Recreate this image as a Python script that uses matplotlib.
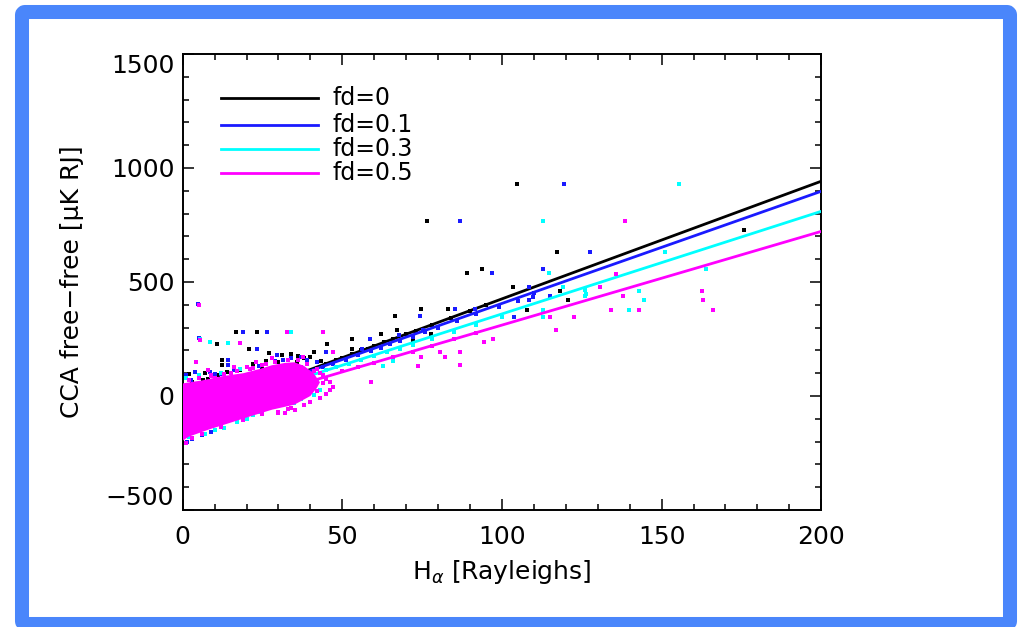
import numpy as np
import matplotlib
matplotlib.use("Agg")
import matplotlib.pyplot as plt
from matplotlib.patches import FancyBboxPatch

plt.rcParams['font.family'] = ['DejaVu Sans']
plt.rcParams['mathtext.fontset'] = 'dejavusans'

# ---------------- data ----------------
labels = ["fd=0", "fd=0.1", "fd=0.3", "fd=0.5"]
colors = ["#000000", "#1a1aff", "#00ffff", "#ff00ff"]

# fitted lines: (intercept, slope) for each fd
line_intercepts = [-90, -86, -90, -100]
line_slopes = [5.16, 4.92, 4.50, 4.11]
x_range = [0, 200]

# fd=0 (black) points
black_x = [104.7, 76.5, 175.8, 117.2, 88.9, 93.8, 103.5, 118.2, 120.8, 107.9,
           74.5, 83.1, 66.6, 67.0, 62.2, 72.2, 77.7, 52.9, 52.9, 45.1,
           16.6, 23.2, 10.6, 20.9, 27.1, 41.1, 12.4, 12.4, 35.7, 43.3,
           6.5, 45, 48, 50, 53, 56, 58, 60, 63, 66,
           70, 73, 78, 84, 90, 95, 30, 33, 38, 25,
           18, 8, 3, 2, 7, 31, 36, 40, 22, 28,
           14, 11, 5, 26, 34]
black_y = [930, 767, 728, 633, 539, 555, 478, 461, 420, 376,
           382, 382, 350, 289, 271, 245, 274, 248, 204, 230,
           281, 281, 230, 204, 187, 191, 160, 138, 150, 153,
           70, 142, 158, 168, 185, 200, 208, 220, 236, 250,
           270, 285, 312, 342, 372, 400, 150, 160, 165, 128,
           115, 75, 60, 95, 100, 180, 175, 170, 140, 168,
           105, 92, 82, 155, 185]

# fd=0.1 (blue) points
blue_x = [119.4, 86.8, 127.6, 96.9, 112.8, 108.4, 115.0, 109.7, 108.5, 103.7,
          85.4, 91.5, 74.3, 67.8, 58.7, 75.2, 56.1, 18.8, 26.3, 4.9,
          5.0, 23.4, 29.4, 44.8, 14.3, 14.3, 31.5, 8.5, 44, 47,
          51, 55, 59, 62, 65, 68, 72, 76, 80, 86,
          92, 99, 105, 110, 4, 1, 10, 16, 26, 34,
          3, 6, 1.5, 9, 37, 42, 20, 29, 2.5, 12, 24, 39]
blue_y = [930, 767, 633, 540, 555, 478, 438, 435, 420, 347,
          382, 382, 350, 268, 248, 289, 204, 281, 281, 403,
          255, 204, 179, 191, 160, 138, 160, 106, 128, 140,
          158, 178, 196, 212, 228, 242, 260, 280, 300, 330,
          360, 392, 418, 450, 105, 90, 95, 112, 140, 168,
          -190, -172, -200, -160, 170, 150, 125, 155, 68, 98, 132, 158]

# fd=0.3 (cyan) points
cyan_x = [155.3, 112.9, 151.1, 114.6, 163.8, 119.0, 126.0, 126.0, 126.3, 143.0,
          144.6, 139.9, 112.9, 112.9, 62.8, 66.0, 8.5, 14.3, 33.8, 45,
          48, 52, 56, 60, 64, 68, 72, 78, 85, 92,
          100, 38, 42, 40, 36, 33, 30, 28, 44, 1,
          5, 12, 18, 2, 7, 13, 24, 35, 41, 46,
          20, 27, 5.5, 31, 37, 43, 17, 10, 22, 39]
cyan_y = [930, 767, 632, 540, 555, 476, 464, 438, 449, 461,
          420, 379, 376, 347, 131, 154, 237, 233, 281, 112,
          125, 142, 160, 176, 192, 207, 222, 250, 280, 310,
          345, 40, 62, 18, 0, 30, -20, 8, 85, 80,
          92, 102, 118, -182, -165, -140, -70, -30, 5, 60,
          -100, -45, 250, -35, -12, 25, -112, -150, -85, 55]

# fd=0.5 (magenta) points
magenta_x = [138.5, 135.7, 130.7, 138.0, 134.0, 143.0, 162.5, 163.0, 166.2, 115.0,
             122.4, 116.8, 80.6, 86.8, 82.1, 86.8, 94.3, 97.1, 74.6, 73.8,
             32.8, 43.8, 17.9, 47.2, 37.8, 4.2, 44.0, 46.1, 38.8, 39.9,
             35.2, 32.0, 5.0, 5.5, 50, 55, 60, 66, 72, 78,
             85, 92, 59, 43, 45, 41, 37, 26, 22, 15,
             10, 30, 34, 42, 20, 9,
             2, 5, 9, 13, 17, 21, 25, 29, 33, 36,
             39, 42, 44, 46, 47, 45, 43, 38, 33, 30,
             25, 19, 12, 6, 3, 1, 23, 16, 28, 8]
magenta_y = [766, 537, 478, 438, 379, 379, 459, 420, 379, 347,
             347, 289, 192, 192, 169, 135, 237, 252, 169, 131,
             281, 281, 233, 191, 169, 147, 55, 26, 26, -25,
             -62, -76, 400, 245, 108, 126, 146, 170, 194, 218,
             248, 278, 61, 100, 75, 110, 125, 140, 122, 100,
             80, -70, -52, 20, 128, 88,
             70, 78, 90, 98, 110, 118, 135, 150, 160, 158,
             140, 118, 90, 60, 40, 10, -10, -40, -55, -75,
             -80, -105, -135, -165, -185, -205, 150, 125, 165, 112]

# dense core of the magenta cloud (outline)
core_x = [0, 3, 6, 12, 19, 24, 28, 32, 35, 38, 41, 43, 42, 40, 35, 28, 21, 15, 8, 2, 0]
core_y = [55, 62, 68, 86, 100, 118, 135, 145, 148, 132, 100, 60, 35, 0, -38, -60, -90, -117, -148, -178, -196]

x_ticks = [0, 50, 100, 150, 200]
y_ticks = [-500, 0, 500, 1000, 1500]

# ---------------- figure ----------------
fig = plt.figure(figsize=(10.21, 6.27), dpi=100)
fig.patch.set_facecolor("white")

# blue rounded frame
frame = FancyBboxPatch((0.22, 0.03), 9.88, 6.12,
                       boxstyle="round,pad=0,rounding_size=0.03",
                       transform=fig.dpi_scale_trans, facecolor="none",
                       edgecolor="#4a86fb", linewidth=10.1, joinstyle="round")
fig.patches.append(frame)

ax = fig.add_axes([0.1789, 0.1866, 0.6255, 0.7273])

xs = np.array(x_range, dtype=float)
pts = [(black_x, black_y), (blue_x, blue_y), (cyan_x, cyan_y), (magenta_x, magenta_y)]
for i, (px, py) in enumerate(pts):
    if i == 3:
        ax.fill(core_x, core_y, color=colors[3], lw=0, zorder=2 + 2 * i)
    ax.scatter(px, py, s=8, marker="s", color=colors[i], lw=0, zorder=2 + 2 * i)
    ax.plot(xs, line_intercepts[i] + line_slopes[i] * xs, color=colors[i],
            lw=2.0, zorder=3 + 2 * i, solid_capstyle="butt")

ax.set_xlim(0, 200)
ax.set_ylim(-500, 1500)
ax.set_xticks(x_ticks)
ax.set_yticks(y_ticks)
ax.set_xticks(np.arange(0, 201, 10), minor=True)
ax.set_yticks(np.arange(-500, 1501, 100), minor=True)
ax.tick_params(which="both", direction="in", top=True, right=True, width=1.1)
ax.tick_params(which="major", length=8)
ax.tick_params(which="minor", length=4.3)
ax.tick_params(axis="x", which="major", labelsize=18, pad=11)
ax.tick_params(axis="y", which="major", labelsize=18, pad=6)
for s in ax.spines.values():
    s.set_linewidth(1.4)

ax.set_xlabel(r"H$_{\alpha}$ [Rayleighs]", fontsize=18)
ax.xaxis.set_label_coords(0.5, -0.105)
ax.set_ylabel("CCA free\u2212free [\u03bcK RJ]", fontsize=18)
ax.yaxis.set_label_coords(-0.1546, 0.5)

# IDL-style placement of the end labels
yt = ax.yaxis.get_major_ticks()
yt[-1].label1.set_va("top")
yt[0].label1.set_va("bottom")

# legend drawn in axes fraction
leg_y = [0.9029, 0.8443, 0.7917, 0.7384]
for i in range(4):
    ax.plot([0.0595, 0.2114], [leg_y[i], leg_y[i]], color=colors[i], lw=2.0,
            transform=ax.transAxes, zorder=20)
    ax.text(0.235, leg_y[i], labels[i], transform=ax.transAxes, fontsize=17,
            va="center", ha="left", zorder=20)

fig.savefig("out.png", dpi=100)
